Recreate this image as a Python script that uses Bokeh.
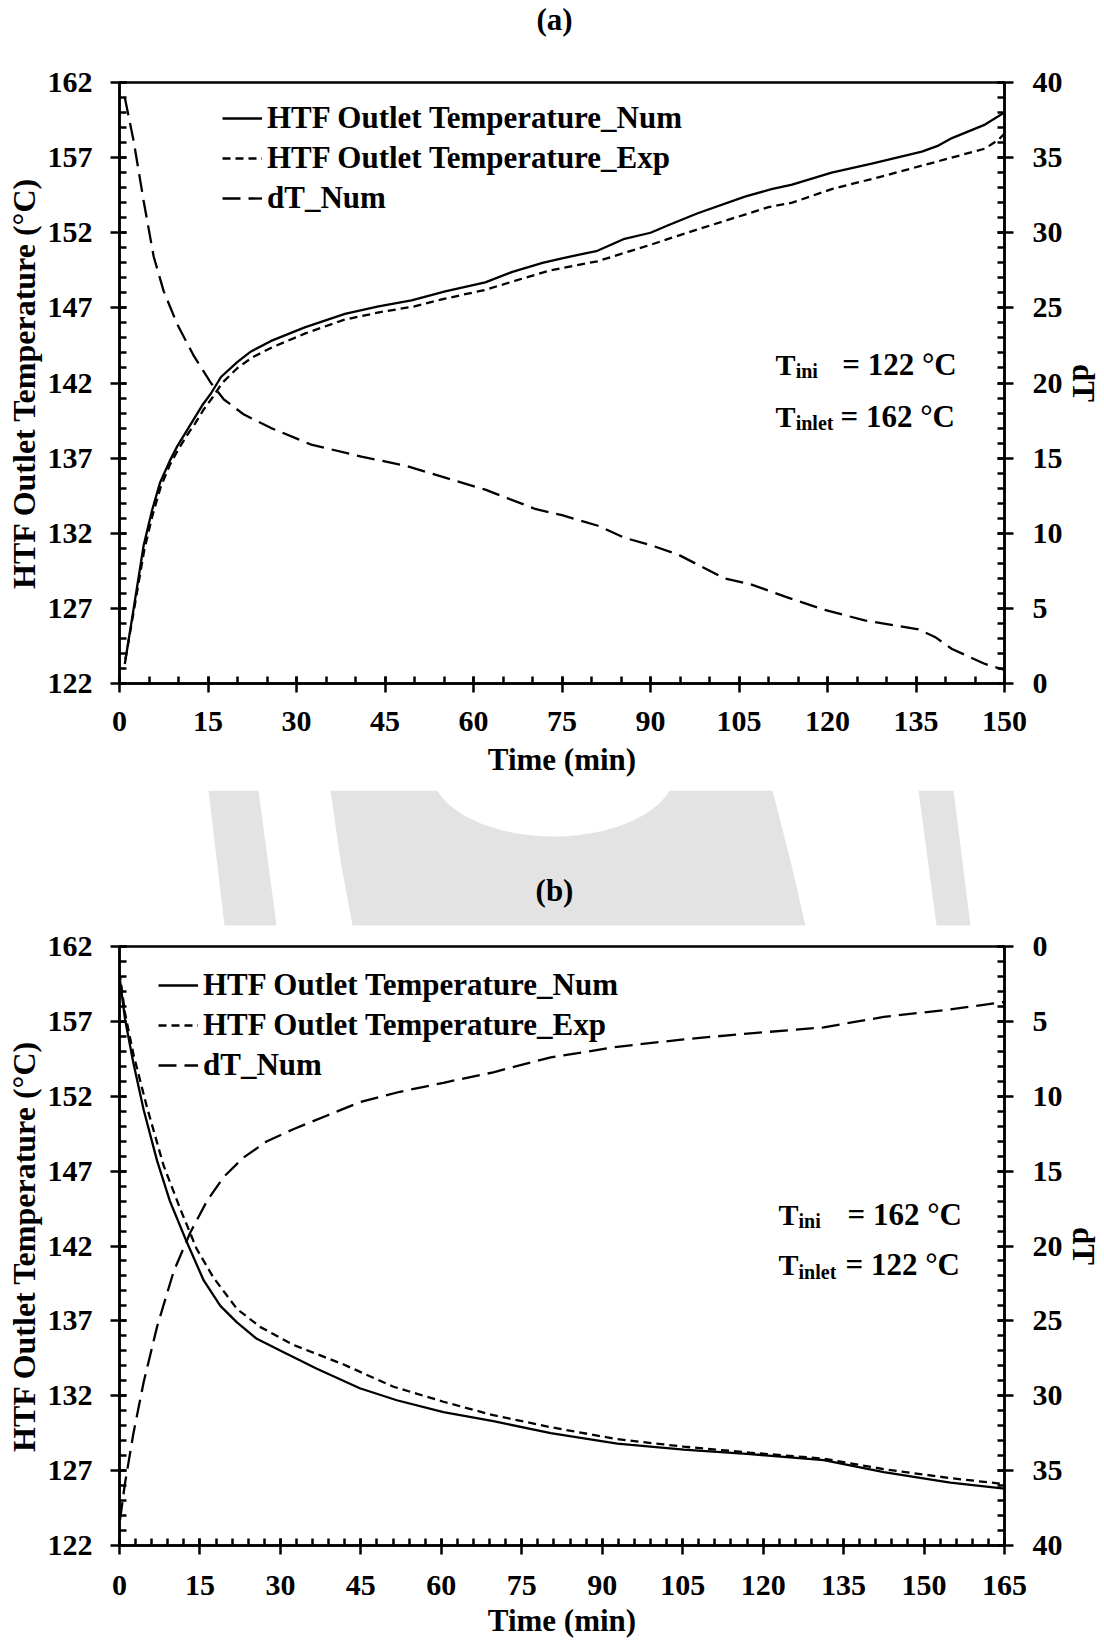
import math

from bokeh.core.properties import value
from bokeh.embed import file_html
from bokeh.layouts import column
from bokeh.models import FixedTicker, Label, LinearAxis, Range1d
from bokeh.plotting import figure
from bokeh.resources import INLINE

# ---------------------------------------------------------------------------
# (a) charging run: T_ini = 122 °C, T_inlet = 162 °C, 0-150 min
# ---------------------------------------------------------------------------
a_num_time = [0.9, 2.4, 4.1, 5.5, 6.9, 8.5, 9.8, 11.2, 12.6, 14.0, 15.5, 17.2,
              20.0, 22.3, 25.7, 31.4, 38.2, 43.9, 49.5, 55.2, 62.0, 66.6, 71.7,
              75.0, 81.0, 85.6, 90.0, 93.0, 98.0, 106.0, 110.5, 114.0, 120.7,
              127.5, 136.0, 138.8, 141.1, 146.7, 150.0]
a_num_temp = [123.3, 127.0, 131.2, 133.5, 135.4, 136.8, 137.8, 138.7, 139.6,
              140.5, 141.3, 142.4, 143.4, 144.1, 144.8, 145.7, 146.6, 147.1,
              147.5, 148.1, 148.7, 149.4, 150.0, 150.3, 150.8, 151.6, 152.0,
              152.5, 153.3, 154.4, 154.9, 155.2, 156.0, 156.6, 157.4, 157.8,
              158.3, 159.2, 160.0]

a_exp_time = [1.0, 2.5, 4.2, 5.6, 7.0, 8.6, 10.0, 11.4, 12.8, 14.2, 15.7, 17.4,
              20.0, 22.5, 26.0, 31.5, 38.0, 44.0, 50.0, 55.0, 62.0, 67.0, 73.0,
              81.0, 90.0, 98.6, 110.0, 114.0, 120.7, 129.7, 138.2, 146.7,
              149.0, 150.0]
a_exp_temp = [123.6, 127.0, 130.9, 133.2, 135.1, 136.6, 137.6, 138.5, 139.3,
              140.2, 141.0, 142.0, 143.0, 143.7, 144.4, 145.3, 146.2, 146.7,
              147.1, 147.6, 148.2, 148.8, 149.5, 150.1, 151.2, 152.3, 153.7,
              154.0, 154.9, 155.8, 156.7, 157.6, 158.2, 158.6]

a_dT_time = [0.9, 2.4, 4.1, 5.8, 7.5, 9.8, 12.6, 15.5, 17.7, 21.1, 25.7, 32.5,
             41.0, 48.4, 55.2, 62.0, 70.6, 75.0, 81.1, 85.6, 90.1, 94.6, 102.5,
             107.0, 112.7, 119.5, 126.3, 135.4, 138.2, 141.1, 146.7, 150.0]
a_dT = [39.0, 36.1, 32.1, 28.4, 26.1, 23.9, 21.8, 20.0, 18.9, 17.9, 17.0, 15.9,
        15.1, 14.5, 13.7, 12.9, 11.6, 11.2, 10.5, 9.7, 9.2, 8.6, 7.0, 6.6, 5.8,
        4.9, 4.2, 3.6, 3.1, 2.3, 1.3, 0.9]

# ---------------------------------------------------------------------------
# (b) discharging run: T_ini = 162 °C, T_inlet = 122 °C, 0-165 min
# ---------------------------------------------------------------------------
b_num_time = [0.0, 1.05, 2.6, 4.5, 7.0, 9.4, 12.5, 15.7, 18.8, 21.9, 25.6, 30.6,
              36.8, 44.8, 51.7, 60.4, 69.7, 80.4, 92.8, 105.2, 117.6, 131.3,
              142.5, 154.9, 165.0]
b_num_temp = [160.0, 157.1, 154.2, 151.1, 147.7, 145.0, 142.3, 139.7, 138.0,
              136.9, 135.8, 134.9, 133.8, 132.5, 131.7, 130.9, 130.3, 129.5,
              128.8, 128.4, 128.1, 127.7, 126.9, 126.2, 125.8]

b_exp_time = [0.0, 1.0, 2.6, 5.1, 8.2, 11.3, 14.4, 17.5, 21.9, 26.2, 32.4, 41.7,
              51.1, 60.4, 69.7, 80.4, 92.8, 105.2, 117.6, 131.3, 142.5, 154.9,
              165.0]
b_exp_temp = [160.3, 157.6, 154.8, 151.3, 147.4, 144.5, 141.8, 139.9, 137.8,
              136.6, 135.4, 134.1, 132.6, 131.6, 130.7, 129.9, 129.1, 128.6,
              128.2, 127.8, 127.1, 126.5, 126.1]

b_dT_time = [0.1, 1.0, 2.6, 4.5, 7.0, 10.1, 13.2, 16.3, 19.4, 23.1, 27.5, 32.4,
             38.6, 44.8, 52.3, 60.4, 69.7, 80.4, 92.8, 105.2, 117.6, 131.3,
             142.5, 154.9, 165.0]
b_dT = [38.3, 35.9, 32.5, 29.1, 25.4, 21.7, 19.1, 17.0, 15.4, 14.1, 13.0, 12.2,
        11.3, 10.4, 9.7, 9.1, 8.4, 7.4, 6.7, 6.2, 5.8, 5.4, 4.7, 4.2, 3.7]

# Axis ticks
temp_ticks = list(range(122, 163, 5))
temp_minor = list(range(122, 163))
dT_ticks = list(range(0, 41, 5))
dT_minor = list(range(0, 41))
a_time_ticks = list(range(0, 151, 15))
a_time_minor = list(range(0, 151, 5))
b_time_ticks = list(range(0, 166, 15))
b_time_minor = list(range(0, 166, 3))

series_names = ["HTF Outlet Temperature_Num", "HTF Outlet Temperature_Exp", "dT_Num"]

FONT = "Liberation Serif"
INK = "black"
PAGE_W = 1104
LEFT, RIGHT = 119, 100          # side borders shared by every strip


def style_axis(ax, tick_standoff, label_standoff):
    ax.axis_line_color = INK
    ax.axis_line_width = 2.5
    ax.major_tick_line_color = INK
    ax.major_tick_line_width = 2.5
    ax.minor_tick_line_color = INK
    ax.minor_tick_line_width = 2.5
    ax.major_tick_in = 7
    ax.major_tick_out = 9
    ax.minor_tick_in = 7
    ax.minor_tick_out = 0
    ax.major_label_text_font = FONT
    ax.major_label_text_font_style = "bold"
    ax.major_label_text_font_size = "30px"
    ax.major_label_text_color = INK
    ax.major_label_standoff = tick_standoff
    ax.axis_label_text_font = FONT
    ax.axis_label_text_font_style = "bold"
    ax.axis_label_text_font_size = "31px"
    ax.axis_label_text_color = INK
    ax.axis_label_standoff = label_standoff


def title_axis(p, side, tick, text, standoff, orientation="horizontal", **kw):
    # a bare axis whose single tick label serves as the axis title
    ax = LinearAxis(ticker=FixedTicker(ticks=[tick], minor_ticks=[]), **kw)
    ax.major_label_overrides = {tick: text}
    ax.axis_line_color = None
    ax.major_tick_line_color = None
    ax.minor_tick_line_color = None
    ax.major_tick_in = ax.major_tick_out = 0
    ax.minor_tick_in = ax.minor_tick_out = 0
    ax.major_label_standoff = standoff
    ax.major_label_orientation = orientation
    ax.major_label_text_font = FONT
    ax.major_label_text_font_style = "bold"
    ax.major_label_text_font_size = "31px"
    ax.major_label_text_color = INK
    p.add_layout(ax, side)


def note(p, x, y, text, size):
    p.add_layout(Label(x=x, y=y, text=text, text_font=FONT,
                       text_font_style="bold", text_font_size=size,
                       text_color=INK, text_align="left",
                       text_baseline="alphabetic"))


def panel(height, border_top, border_bottom, t_end, t_ticks, t_minor,
          dT_range, curves, legend_xy, notes, x_standoffs, time_title_gap):
    p = figure(width=PAGE_W, height=height,
               x_range=Range1d(0, t_end), y_range=Range1d(122, 162),
               output_backend="svg", toolbar_location=None,
               min_border_left=LEFT, min_border_right=RIGHT,
               min_border_top=border_top, min_border_bottom=border_bottom)
    p.xgrid.visible = False
    p.ygrid.visible = False
    p.outline_line_color = INK
    p.outline_line_width = 2.5
    p.background_fill_color = "white"
    p.border_fill_color = "white"

    p.xaxis.ticker = FixedTicker(ticks=t_ticks, minor_ticks=t_minor)
    style_axis(p.xaxis[0], *x_standoffs)
    if time_title_gap is None:
        p.xaxis.axis_label = "Time (min)"
    else:
        title_axis(p, "below", t_end / 2, "Time (min)", time_title_gap)

    p.yaxis.ticker = FixedTicker(ticks=temp_ticks, minor_ticks=temp_minor)
    p.yaxis.axis_label = "HTF Outlet Temperature (°C)"
    style_axis(p.yaxis[0], 18, 3)
    p.yaxis.axis_label_text_font_size = "32px"

    p.extra_y_ranges = {"dT": dT_range}
    right = LinearAxis(y_range_name="dT",
                       ticker=FixedTicker(ticks=dT_ticks, minor_ticks=dT_minor))
    style_axis(right, 19, 8)
    p.add_layout(right, "right")
    # secondary-axis title, set on its side
    title_axis(p, "right", 20, "dT", 0, orientation="vertical",
               y_range_name="dT")

    (nt, nT), (et, eT), (dt, dd) = curves
    p.line(nt, nT, line_color=INK, line_width=2.3, legend_label=series_names[0])
    p.line(et, eT, line_color=INK, line_width=2.3, line_dash="8 5",
           legend_label=series_names[1])
    p.line(dt, dd, line_color=INK, line_width=2.3, line_dash="18 8",
           y_range_name="dT", legend_label=series_names[2])

    lg = p.legend[0]
    lg.location = legend_xy
    lg.border_line_color = None
    lg.background_fill_alpha = 0
    lg.padding = 0
    lg.margin = 0
    lg.spacing = 0
    lg.glyph_width = 40
    lg.glyph_height = 40
    lg.label_height = 40
    lg.label_standoff = 5
    lg.label_text_font = FONT
    lg.label_text_font_style = "bold"
    lg.label_text_font_size = "31px"
    lg.label_text_color = INK

    for x, y, text, size in notes:
        note(p, x, y, text, size)
    return p


def caption_strip(height, top):
    # page-pixel coordinates inside the shared frame columns
    s = figure(width=PAGE_W, height=height,
               x_range=Range1d(LEFT, PAGE_W - RIGHT),
               y_range=Range1d(top + height, top),
               x_axis_type=None, y_axis_type=None, output_backend="svg",
               toolbar_location=None, min_border=0,
               min_border_left=LEFT, min_border_right=RIGHT,
               outline_line_color=None)
    s.xgrid.visible = False
    s.ygrid.visible = False
    return s


def caption(s, text, y):
    s.text(x=[554], y=[y], text=[text], text_align="center",
           text_baseline="middle", text_font=value(FONT),
           text_font_style="bold", text_font_size="31px", text_color=INK)


# Header with the "(a)" caption
head = caption_strip(60, 0)
caption(head, "(a)", 19)

top = panel(730, 22, 107, 150, a_time_ticks, a_time_minor, Range1d(0, 40),
            [(a_num_time, a_num_temp), (a_exp_time, a_exp_temp),
             (a_dT_time, a_dT)],
            (103, 465),
            [(111.2, 143.26, "T", "30px"), (114.6, 142.8, "ini", "20px"),
             (122.5, 143.26, "= 122 °C", "31px"),
             (111.2, 139.8, "T", "30px"), (114.6, 139.34, "inlet", "20px"),
             (122.2, 139.8, "= 162 °C", "31px")],
            (19, 8), None)

# Strip between the panels: faint page emblem behind the "(b)" caption
strip = caption_strip(140, 790)
shade = "#e3e3e3"
arc = [(553 + 122 * math.cos(th), 770 + 66 * math.sin(th))
       for th in [2.834 - k * (2.834 - 0.308) / 24 for k in range(25)]]
strip.patch([330] + [q[0] for q in arc] + [772, 790, 805, 352, 340],
            [790] + [q[1] for q in arc] + [790, 860, 925, 925, 860],
            fill_color=shade, line_color=None)
strip.patch([208, 258, 276, 224], [790, 790, 925, 925], fill_color=shade,
            line_color=None)
strip.patch([918, 953, 970, 936], [790, 790, 925, 925], fill_color=shade,
            line_color=None)
caption(strip, "(b)", 890)

bottom = panel(710, 16, 94, 165, b_time_ticks, b_time_minor, Range1d(40, 0),
               [(b_num_time, b_num_temp), (b_exp_time, b_exp_temp),
                (b_dT_time, b_dT)],
               (39, 460),
               [(122.87, 144.12, "T", "30px"), (126.6, 143.66, "ini", "20px"),
                (135.73, 144.12, "= 162 °C", "31px"),
                (122.87, 140.74, "T", "30px"), (126.6, 140.27, "inlet", "20px"),
                (135.36, 140.74, "= 122 °C", "31px")],
               (21, 8), 5)

page = column(head, top, strip, bottom, spacing=0)

open("out.html", "w").write(file_html(page, INLINE))
